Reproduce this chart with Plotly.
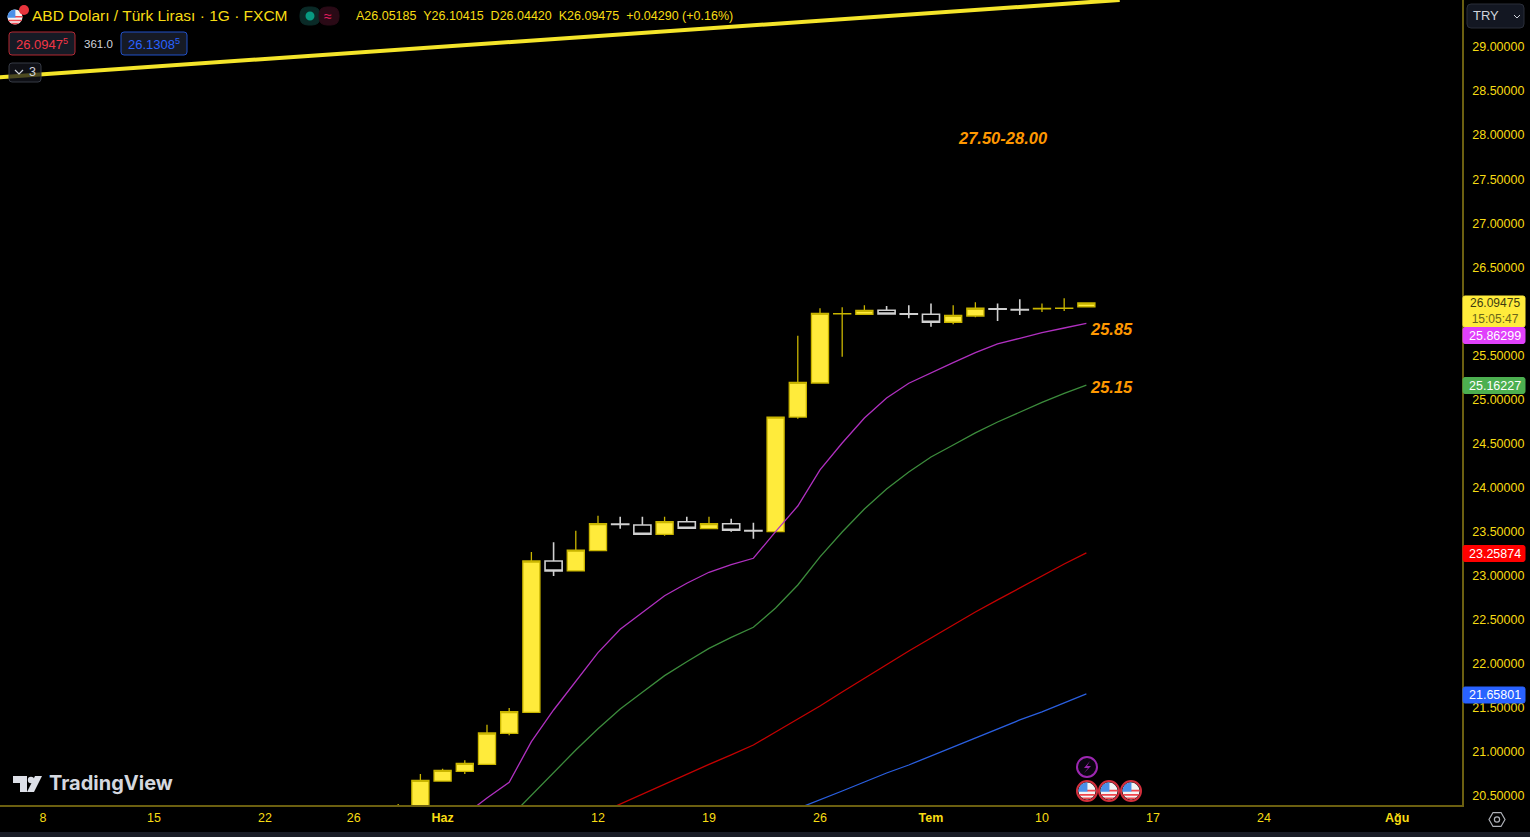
import math
import plotly.graph_objects as go

# ---- data ----
bar_index = list(range(16, 48))
opens  = [20.15,20.33,20.67,20.78,20.86,21.21,21.45,23.167,23.054,23.284,23.585,23.576,23.47,23.613,23.534,23.59,23.513,23.50,24.80,25.187,25.971,25.967,26.012,25.972,25.967,25.876,25.947,26.029,26.021,26.028,26.033,26.05185]
highs  = [20.41,20.75,20.81,20.905,21.31,21.50,23.27,23.38,23.51,23.68,23.67,23.67,23.67,23.67,23.67,23.647,23.60,24.80,25.724,26.035,26.046,26.069,26.06,26.069,26.09,26.069,26.103,26.09,26.137,26.09,26.148,26.10415]
lows   = [20.10,20.30,20.67,20.75,20.86,21.19,21.45,22.997,23.054,23.284,23.534,23.47,23.454,23.538,23.534,23.50,23.42,23.50,24.78,25.187,25.486,25.967,25.97,25.921,25.826,25.853,25.933,25.891,25.959,25.993,26.004,26.0442]
closes = [20.30,20.678,20.79,20.87,21.215,21.457,23.167,23.054,23.29,23.59,23.581,23.47,23.613,23.538,23.59,23.515,23.509,24.80,25.195,25.978,25.975,26.012,25.97,25.968,25.876,25.955,26.035,26.025,26.017,26.032,26.037,26.09475]

purple_x = list(range(19, 48))
purple_y = [20.285,20.478,20.656,21.117,21.476,21.797,22.127,22.392,22.585,22.773,22.914,23.039,23.125,23.198,23.50,23.791,24.2,24.506,24.79,25.017,25.184,25.304,25.417,25.531,25.63,25.694,25.758,25.811,25.86299]
green_x = list(range(21, 48))
green_y = [20.251,20.512,20.765,21.022,21.264,21.488,21.677,21.866,22.024,22.176,22.301,22.415,22.634,22.895,23.213,23.496,23.757,23.984,24.177,24.347,24.483,24.62,24.744,24.858,24.966,25.068,25.16227]
red_x = list(range(25, 48))
red_y = [20.296,20.41,20.523,20.637,20.744,20.858,20.966,21.079,21.227,21.374,21.522,21.681,21.839,21.998,22.146,22.293,22.441,22.588,22.725,22.861,22.997,23.133,23.25874]
blue_x = list(range(34, 48))
blue_y = [20.358,20.455,20.557,20.659,20.761,20.852,20.954,21.056,21.158,21.261,21.363,21.454,21.556,21.65801]
trend_x = [-2.0, 48.5]
trend_y = [28.655, 29.533]

x_tick_pos = [0, 5, 10, 14, 18, 25, 30, 35, 40, 45, 50, 55, 61]
x_tick_txt = ["8", "15", "22", "26", "<b>Haz</b>", "12", "19", "26", "<b>Tem</b>", "10", "17", "24", "<b>Ağu</b>"]
y_tick_pos = [20.5, 21.0, 21.5, 22.0, 22.5, 23.0, 23.5, 24.0, 24.5, 25.0, 25.5, 26.5, 27.0, 27.5, 28.0, 28.5, 29.0]
y_tick_txt = ["20.50000", "21.00000", "21.50000", "22.00000", "22.50000", "23.00000", "23.50000", "24.00000", "24.50000",
              "25.00000", "25.50000", "26.50000", "27.00000", "27.50000", "28.00000", "28.50000", "29.00000"]

title_text = "ABD Doları / Türk Lirası · 1G · FXCM"
ohlc_text = "A26.05185  Y26.10415  D26.04420  K26.09475  +0.04290 (+0.16%)"

# ---- layout constants ----
PW, PH = 1462.0, 805.0
YEL = "#f7dc13"
def X(p): return p / PW
def Y(p): return 1 - p / PH

shapes, ann = [], []

def rrect(x0, y0, x1, y1, r=3, fill="#131722", line="#363a45", lw=1):
    d = (f"M {X(x0+r)} {Y(y0)} L {X(x1-r)} {Y(y0)} Q {X(x1)} {Y(y0)} {X(x1)} {Y(y0+r)} "
         f"L {X(x1)} {Y(y1-r)} Q {X(x1)} {Y(y1)} {X(x1-r)} {Y(y1)} L {X(x0+r)} {Y(y1)} "
         f"Q {X(x0)} {Y(y1)} {X(x0)} {Y(y1-r)} L {X(x0)} {Y(y0+r)} Q {X(x0)} {Y(y0)} {X(x0+r)} {Y(y0)} Z")
    shapes.append(dict(type="path", xref="paper", yref="paper", path=d, fillcolor=fill,
                       line=dict(color=line, width=lw), layer="above"))

def poly(pts, fill=None, line=None, lw=1, close=True):
    d = "M " + " L ".join(f"{X(a)} {Y(b)}" for a, b in pts) + (" Z" if close else "")
    shapes.append(dict(type="path", xref="paper", yref="paper", path=d,
                       fillcolor=fill if fill else "rgba(0,0,0,0)",
                       line=dict(color=line if line else "rgba(0,0,0,0)", width=lw), layer="above"))

def circ(cx, cy, r, fill=None, line=None, lw=1):
    shapes.append(dict(type="circle", xref="paper", yref="paper", x0=X(cx-r), x1=X(cx+r),
                       y0=Y(cy+r), y1=Y(cy-r), fillcolor=fill if fill else "rgba(0,0,0,0)",
                       line=dict(color=line if line else "rgba(0,0,0,0)", width=lw), layer="above"))

def txt(x, y, s, color, size, anchor="left", font="Liberation Sans", **kw):
    ann.append(dict(xref="paper", yref="paper", x=X(x), y=Y(y), text=s, showarrow=False,
                    xanchor=anchor, yanchor="middle", font=dict(color=color, size=size, family=font),
                    borderpad=0, **kw))

def flag(cx, cy, r, ring=None):
    if ring:
        circ(cx, cy, r + 1.5, fill="#000000", line=ring, lw=2)
    circ(cx, cy, r, fill="#f4f4f4")
    for dy in (-0.15, 0.35, 0.75):
        y0, y1 = cy + dy * r, cy + (dy + 0.22) * r
        hw0 = math.sqrt(max(r*r - (y0-cy)**2, 0))
        hw1 = math.sqrt(max(r*r - (y1-cy)**2, 0))
        left = cx if dy < 0.2 else cx - hw0
        left1 = cx if dy < 0.2 else cx - hw1
        poly([(left, y0), (cx + hw0, y0), (cx + hw1, y1), (left1, y1)], fill="#f0454d")
    pts = [(cx + 0.05 * r, cy + 0.1 * r), (cx + 0.05 * r, cy - r)]
    for a in range(95, 185, 15):
        pts.append((cx + r * math.cos(math.radians(a)), cy - r * math.sin(math.radians(a))))
    pts.append((cx - r, cy + 0.1 * r))
    poly(pts, fill="#4a90e8")

shapes.append(dict(type="rect", xref="paper", yref="paper", x0=0, x1=X(1530), y0=Y(837), y1=Y(832),
                   fillcolor="#1a1d26", line=dict(width=0), layer="above"))

# header
flag(15, 17, 7.5)
circ(24, 10, 5, fill="#e8343c")
txt(31, 16, title_text, YEL, 15.5)
rrect(300, 7, 320, 25, r=8, fill="#0a2a27", line="#0a2a27")
circ(310, 16, 4.5, fill="#089981")
rrect(319, 7, 339, 25, r=8, fill="#2a0a16", line="#2a0a16")
txt(328, 16, "≈", "#e91e63", 14, anchor="center")
txt(355, 16, ohlc_text, YEL, 12.5)

rrect(9, 32, 75, 55, fill="#161a25", line="#b22833")
txt(42, 44, "26.0947<sup>5</sup>", "#f23645", 13, anchor="center")
txt(98, 44, "361.0", "#d1d4dc", 11.5, anchor="center")
rrect(121, 32, 187, 55, fill="#161a25", line="#2050c8")
txt(154, 44, "26.1308<sup>5</sup>", "#2962ff", 13, anchor="center")
rrect(9, 63, 41, 82, fill="rgba(20,22,30,0.75)", line="#363a45")
poly([(15, 70), (19, 74), (23, 70)], line="#d1d4dc", lw=1.2, close=False)
txt(32, 72, "3", "#d1d4dc", 12.5, anchor="center")

# level labels
orange = "#ff9800"
lab = "<b><i>%s</i></b>"
txt(1003, 138, lab % "27.50-28.00", orange, 16.5, anchor="center")
txt(1111, 329, lab % "25.85", orange, 16.5, anchor="center")
txt(1111, 387, lab % "25.15", orange, 16.5, anchor="center")

# price scale tags
rrect(1463, 296, 1525, 327, r=2, fill="#ffeb3b", line="#ffeb3b")
txt(1495, 311, "26.09475<br><span style='color:#6b661a'>15:05:47</span>", "#3d3a10", 12, anchor="center")
for yp, col, s in [(335.5, "#e040fb", "25.86299"), (385.5, "#4caf50", "25.16227"),
                   (553.5, "#ff0000", "23.25874"), (695, "#2962ff", "21.65801")]:
    rrect(1463, yp - 8, 1525, yp + 8, r=2, fill=col, line=col)
    txt(1495, yp, s, "#ffffff", 12.5, anchor="center")

# currency selector
rrect(1467, 4, 1524, 28, r=4, fill="#131722", line="#2a2e39")
txt(1472, 16, "TRY", "#d1d4dc", 13)
poly([(1514, 15), (1517, 18), (1520, 15)], line="#d1d4dc", lw=1, close=False)

# TradingView logo
poly([(13, 776), (27, 776), (27, 792), (20, 792), (20, 783), (13, 783)], fill="#dde0e8")
circ(31, 780, 3.2, fill="#dde0e8")
poly([(35, 776), (42, 776), (34, 792), (27, 792)], fill="#dde0e8")
txt(48, 783, "<b>TradingView</b>", "#d4d7df", 20, font="Inter")

# event icons
circ(1087, 767, 10, fill="#0a0510", line="#9c27b0", lw=2)
poly([(1090, 761), (1084, 768), (1088, 768), (1084, 773), (1091, 766), (1087, 766)], fill="#9c27b0")
for cx in (1087, 1109, 1131):
    flag(cx, 791, 8.5, ring="#d32f3c")

# gear icon
hexa = [(1497 + 8 * math.cos(math.radians(a)), 819.5 + 8 * math.sin(math.radians(a))) for a in range(0, 360, 60)]
poly(hexa, line="#aeb1b8", lw=1.2)
circ(1497, 819.5, 2.6, line="#aeb1b8", lw=1.2)

fig = go.Figure()
for xs, ys, col in [(blue_x, blue_y, "#2a5fe0"), (red_x, red_y, "#c40000"),
                    (green_x, green_y, "#3c8c3c"), (purple_x, purple_y, "#b030c0")]:
    fig.add_trace(go.Scatter(x=xs, y=ys, mode="lines", line=dict(color=col, width=1.3), showlegend=False))
fig.add_trace(go.Candlestick(
    x=bar_index, open=opens, high=highs, low=lows, close=closes, showlegend=False, whiskerwidth=0,
    increasing=dict(fillcolor="#ffeb3b", line=dict(color="#c9b500", width=1.3)),
    decreasing=dict(fillcolor="#000000", line=dict(color="#d0d0d0", width=1.6)),
))
fig.add_trace(go.Scatter(x=trend_x, y=trend_y, mode="lines", line=dict(color="#f5e52a", width=4), showlegend=False))

axis_line = "#6b5f10"
fig.update_layout(
    width=1530, height=837, margin=dict(l=0, r=68, t=0, b=32),
    paper_bgcolor="#000000", plot_bgcolor="#000000", boxgap=0.23, boxgroupgap=0,
    shapes=shapes, annotations=ann, showlegend=False,
    xaxis=dict(range=[-1.937, 63.92], tickmode="array", tickvals=x_tick_pos, ticktext=x_tick_txt,
               showgrid=False, zeroline=False, showline=True, linecolor=axis_line, linewidth=1.5,
               rangeslider=dict(visible=False), ticks="", 
               tickfont=dict(color=YEL, size=12.5, family="Liberation Sans")),
    yaxis=dict(range=[20.398, 29.533], side="right", tickmode="array", tickvals=y_tick_pos, ticktext=y_tick_txt,
               showgrid=False, zeroline=False, showline=True, linecolor=axis_line, linewidth=1.5,
               ticks="outside", ticklen=6, tickcolor="rgba(0,0,0,0)",
               tickfont=dict(color=YEL, size=12.5, family="Liberation Sans")),
)
fig.write_html("out.html", config=dict(displayModeBar=False),
               post_script="document.body.style.margin='0';document.body.style.overflow='hidden';")
